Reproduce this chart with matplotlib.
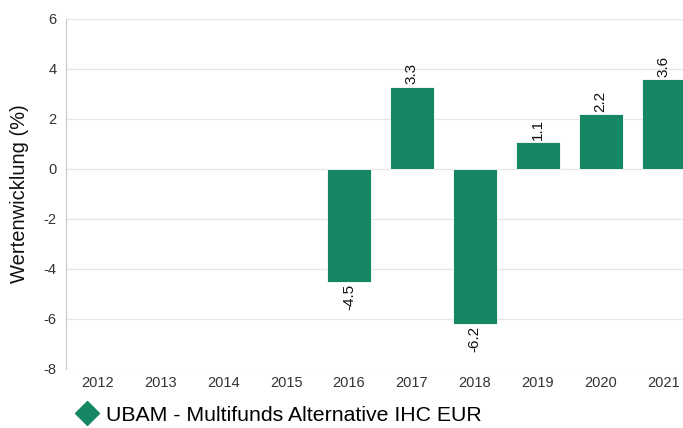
import numpy as np
import matplotlib.pyplot as plt
from matplotlib.lines import Line2D

plt.rcParams['font.family'] = ['Liberation Sans', 'DejaVu Sans']
plt.rcParams['axes.unicode_minus'] = False

years = ["2012", "2013", "2014", "2015", "2016", "2017", "2018", "2019", "2020", "2021"]
returns = [None, None, None, None, -4.5, 3.3, -6.2, 1.1, 2.2, 3.6]
seriesName = "UBAM - Multifunds Alternative IHC EUR"
barColor = "#168765"

fig = plt.figure(figsize=(6.83, 4.28), dpi=100)
ax = fig.add_axes([66 / 683, 59 / 428, 629 / 683, 350 / 428])

x = np.arange(len(years))
for i, v in enumerate(returns):
    if v is None:
        continue
    ax.bar(x[i], v, width=0.7, color=barColor, edgecolor="white", linewidth=0.6, zorder=3)
    if v >= 0:
        ax.text(x[i], v + 0.08, f"{v:.1f}", rotation=90, ha="center", va="bottom",
                fontsize=11, color="#111111")
    else:
        ax.text(x[i], v - 0.08, f"{v:.1f}", rotation=90, ha="center", va="top",
                fontsize=11, color="#111111")

ax.set_xlim(-0.5, len(years) - 0.5)
ax.set_ylim(-8, 6)
ax.set_yticks(range(-8, 7, 2))
ax.set_xticks(x)
ax.set_xticklabels(years)
ax.yaxis.grid(True, color="#e6e6e6", linewidth=0.9, zorder=0)
ax.set_axisbelow(True)
for s in ["top", "right", "bottom"]:
    ax.spines[s].set_visible(False)
ax.spines["left"].set_color("#c8c8c8")
ax.tick_params(axis="both", length=0, labelsize=10.5, colors="#333333")
ax.tick_params(axis="x", pad=5)
ax.tick_params(axis="y", pad=7)
ax.set_ylabel("Wertenwicklung (%)", fontsize=14.5, color="#111111", labelpad=10)

handle = Line2D([], [], marker="D", linestyle="none", color=barColor, markersize=12)
fig.legend([handle], [seriesName], loc="center left", bbox_to_anchor=(0.092, 0.03),
           frameon=False, fontsize=15.3, handletextpad=0.15, handlelength=1.5,
           borderaxespad=0)

fig.savefig("out.png", dpi=100)
